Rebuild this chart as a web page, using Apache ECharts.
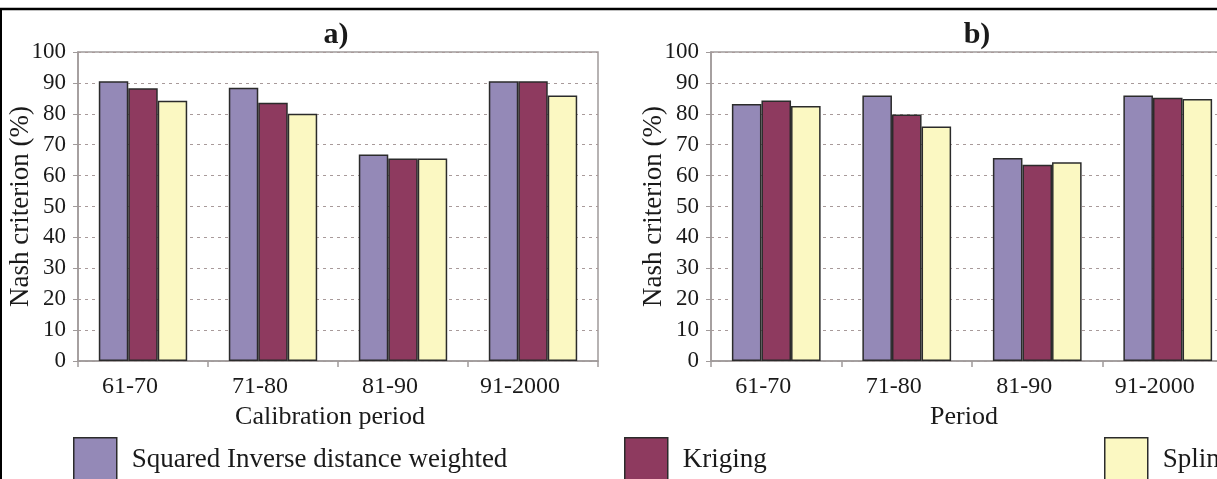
<!DOCTYPE html>
<html>
<head>
<meta charset="utf-8">
<script src="https://cdn.jsdelivr.net/npm/echarts@6/dist/echarts.min.js"></script>
<style>
html,body{margin:0;padding:0;background:#fff;overflow:hidden;width:1217px;height:479px;}
#chart{width:1250px;height:479px;}
</style>
</head>
<body>
<div id="chart"></div>
<script>
const categories = ['61-70', '71-80', '81-90', '91-2000'];
const seriesNames = ['Squared Inverse distance weighted', 'Kriging', 'Spline'];
const colors = ['#9489B7', '#8E3A5F', '#FBF8C2'];
// panel a) Calibration period
const idwA = [90.5, 88.4, 66.8, 90.5];
const krigingA = [88.3, 83.6, 65.5, 90.5];
const splineA = [84.2, 80.0, 65.5, 85.9];
// panel b) Period
const idwB = [83.2, 85.9, 65.7, 85.9];
const krigingB = [84.3, 79.8, 63.5, 85.2];
const splineB = [82.5, 75.9, 64.3, 84.8];
const yTicks = [0, 10, 20, 30, 40, 50, 60, 70, 80, 90, 100];

const FONT = 'Liberation Serif';
const TXT = '#1a1a1a';
const AXIS = '#a09a9a';

function xAxisFor(gridIndex, name) {
  return {
    type: 'category', gridIndex, data: categories, name,
    nameLocation: 'middle', nameGap: 40,
    nameTextStyle: { fontFamily: FONT, fontSize: 26, color: TXT, padding: [0, 16, 0, 0] },
    axisLine: { lineStyle: { color: AXIS, width: 1.5 } },
    axisTick: { show: true, length: 6, lineStyle: { color: AXIS, width: 1.5 } },
    axisLabel: { fontFamily: FONT, fontSize: 24, color: TXT, margin: 14, padding: [0, 26, 0, 0] },
    splitLine: { show: false }
  };
}
function yAxisFor(gridIndex) {
  return {
    type: 'value', gridIndex, min: 0, max: 100, interval: 10,
    name: 'Nash criterion (%)', nameLocation: 'middle', nameGap: 44,
    nameMoveOverlap: false,
    nameTextStyle: { fontFamily: FONT, fontSize: 27, color: TXT },
    axisLine: { show: true, lineStyle: { color: AXIS, width: 1.5 } },
    axisTick: { show: true, length: 5, lineStyle: { color: AXIS, width: 1 } },
    axisLabel: { fontFamily: FONT, fontSize: 23, color: TXT, margin: 12,
      formatter: v => (yTicks.indexOf(v) >= 0 ? String(v) : '') },
    splitLine: { show: true, lineStyle: { color: '#a89a9a', type: [3, 4], width: 1 } }
  };
}
function bar(name, data, idx, color) {
  return {
    name, type: 'bar', xAxisIndex: idx, yAxisIndex: idx, data,
    barGap: '0%', barCategoryGap: '32%',
    itemStyle: { color, borderColor: '#2b2b2b', borderWidth: 1.5 },
    emphasis: { disabled: true }
  };
}
function legendFor(name, left) {
  return {
    data: [name], left, top: 432, icon: 'rect', itemWidth: 43, itemHeight: 44,
    selectedMode: false,
    itemStyle: { borderColor: '#2b2b2b', borderWidth: 1.5 },
    textStyle: { fontFamily: FONT, fontSize: 27, color: TXT, padding: [0, 0, 12, 10] }
  };
}

const chart = echarts.init(document.getElementById('chart'), null, { renderer: 'canvas' });
chart.setOption({
  backgroundColor: '#ffffff',
  animation: false,
  title: [
    { text: 'a)', left: 331, top: 15, textAlign: 'center',
      textStyle: { fontFamily: FONT, fontSize: 30, fontWeight: 'bold', color: TXT } },
    { text: 'b)', left: 972, top: 15, textAlign: 'center',
      textStyle: { fontFamily: FONT, fontSize: 30, fontWeight: 'bold', color: TXT } }
  ],
  grid: [
    { left: 78, top: 52, width: 520, height: 309, show: true, borderColor: AXIS, borderWidth: 1.5, backgroundColor: 'transparent' },
    { left: 711, top: 52, width: 522, height: 309, show: true, borderColor: AXIS, borderWidth: 1.5, backgroundColor: 'transparent' }
  ],
  xAxis: [xAxisFor(0, 'Calibration period'), xAxisFor(1, 'Period')],
  yAxis: [yAxisFor(0), yAxisFor(1)],
  legend: [
    legendFor(seriesNames[0], 68),
    legendFor(seriesNames[1], 619),
    legendFor(seriesNames[2], 1099)
  ],
  series: [
    bar(seriesNames[0], idwA, 0, colors[0]),
    bar(seriesNames[1], krigingA, 0, colors[1]),
    bar(seriesNames[2], splineA, 0, colors[2]),
    bar(seriesNames[0], idwB, 1, colors[0]),
    bar(seriesNames[1], krigingB, 1, colors[1]),
    bar(seriesNames[2], splineB, 1, colors[2])
  ],
  graphic: [
    { type: 'line', shape: { x1: 0, y1: 9, x2: 1250, y2: 9 }, style: { stroke: '#000', lineWidth: 2.5 } },
    { type: 'line', shape: { x1: 1, y1: 9, x2: 1, y2: 479 }, style: { stroke: '#000', lineWidth: 2 } }
  ]
});
</script>
</body>
</html>
